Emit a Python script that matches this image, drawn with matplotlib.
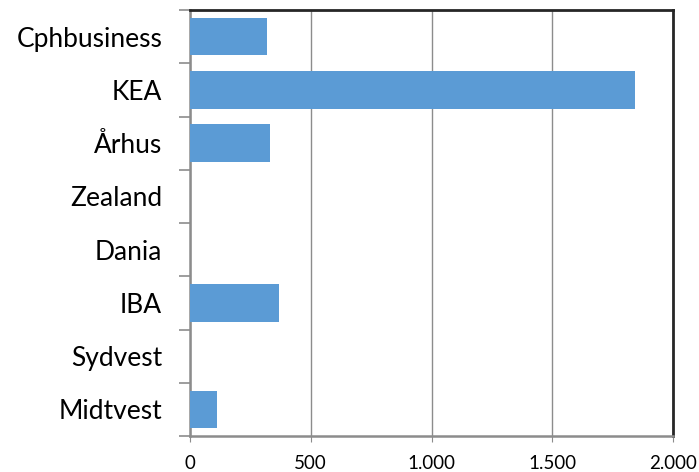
import matplotlib
matplotlib.use('Agg')
import matplotlib.pyplot as plt
import numpy as np
from matplotlib.ticker import FuncFormatter, FixedLocator

# data, top to bottom as shown
schools = ['Cphbusiness', 'KEA', 'Århus', 'Zealand', 'Dania', 'IBA', 'Sydvest', 'Midtvest']
values = [317, 1843, 330, 0, 0, 368, 0, 113]
x_ticks = [0, 500, 1000, 1500, 2000]

plt.rcParams['font.family'] = ['Lato', 'DejaVu Sans']

fig = plt.figure(figsize=(6.99, 4.72), dpi=100)
ax = fig.add_axes([190/699, 1-436/472, (673-190)/699, (436-10)/472])

y = np.arange(len(schools))
ax.barh(y, values, height=0.7, color='#5B9BD5', linewidth=0, zorder=3)

ax.set_xlim(0, 2000)
ax.set_ylim(len(schools) - 0.5, -0.5)

ax.set_xticks(x_ticks)
ax.xaxis.set_major_formatter(FuncFormatter(lambda v, p: f'{int(v):,}'.replace(',', '.')))
ax.grid(axis='x', color='#8C8C8C', linewidth=1.0, zorder=0)

# category labels centered, tick marks at band boundaries
ax.set_yticks(y)
ax.set_yticklabels(schools, fontsize=19)
ax.yaxis.set_minor_locator(FixedLocator(np.arange(-0.5, len(schools), 1)))
ax.tick_params(axis='y', which='major', length=0, pad=20)
ax.tick_params(axis='y', which='minor', length=8, color='#8C8C8C', width=1.2)
ax.tick_params(axis='x', length=4, color='#8C8C8C', labelsize=13.5, pad=10)

for s in ['left', 'bottom']:
    ax.spines[s].set_color('#8C8C8C')
    ax.spines[s].set_linewidth(1.8)
for s in ['top', 'right']:
    ax.spines[s].set_color('#262626')
    ax.spines[s].set_linewidth(2)

fig.savefig('out.png', dpi=100)
